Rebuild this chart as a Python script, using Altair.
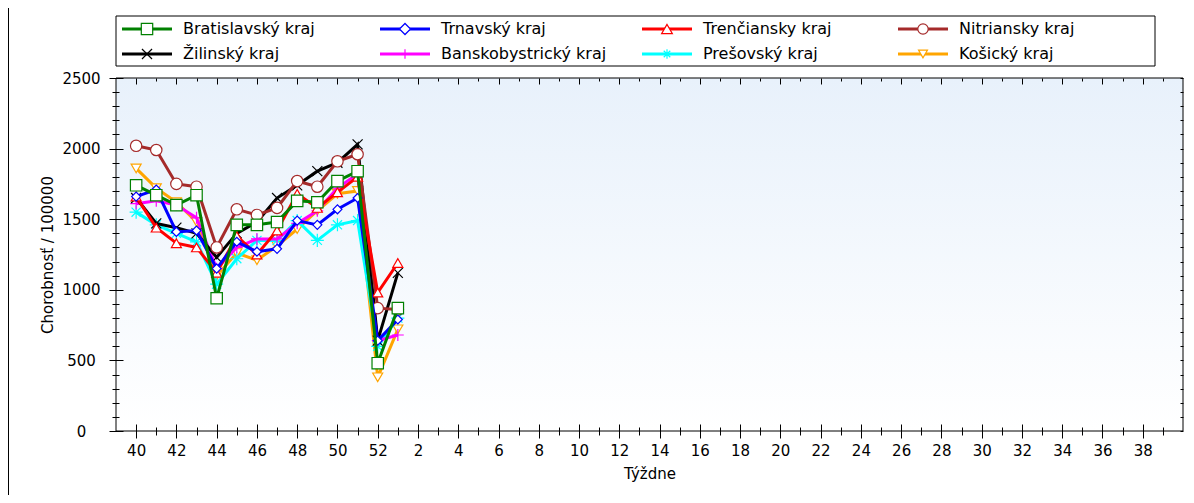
import altair as alt
import pandas as pd

# ---------------- data ----------------
WEEK_LABELS = list(range(40, 53)) + list(range(1, 40))   # x slots of the season
DATA_WEEKS = [40, 41, 42, 43, 44, 45, 46, 47, 48, 49, 50, 51, 52, 1]

SERIES = ["Bratislavský kraj", "Trnavský kraj", "Trenčiansky kraj", "Nitriansky kraj",
          "Žilinský kraj", "Banskobystrický kraj", "Prešovský kraj", "Košický kraj"]

bratislavsky = [1740, 1670, 1600, 1670, 940, 1460, 1460, 1480, 1630, 1620, 1770, 1840, 480, 870]
trnavsky = [1660, 1710, 1410, 1420, 1150, 1340, 1270, 1290, 1490, 1460, 1570, 1650, 640, 790]
trenciansky = [1660, 1440, 1330, 1300, 1120, 1380, 1250, 1420, 1680, 1580, 1690, 1800, 980, 1190]
nitriansky = [2020, 1990, 1750, 1730, 1300, 1570, 1530, 1580, 1770, 1730, 1910, 1960, 870, 860]
zilinsky = [1650, 1470, 1440, 1400, 1230, 1400, 1480, 1650, 1740, 1840, 1900, 2030, 640, 1120]
banskobystricky = [1610, 1630, 1600, 1510, 1150, 1300, 1360, 1360, 1470, 1560, 1720, 1820, 640, 680]
presovsky = [1550, 1460, 1400, 1340, 1040, 1220, 1350, 1350, 1490, 1350, 1460, 1490, 600, 800]
kosicky = [1860, 1720, 1620, 1480, 1100, 1260, 1210, 1310, 1430, 1560, 1680, 1700, 380, 720]

VALUES = [bratislavsky, trnavsky, trenciansky, nitriansky,
          zilinsky, banskobystricky, presovsky, kosicky]

# ---------------- styles ----------------
COLORS = ["#008000", "#0000ff", "#ff0000", "#a52a2a",
          "#000000", "#ff00ff", "#00ffff", "#ffa500"]
X_PATH = "M-1,-1L1,1M-1,1L1,-1"
PLUS_PATH = "M-1,0L1,0M0,-1L0,1"
STAR_PATH = "M-1,0L1,0M0,-1L0,1M-0.7,-0.7L0.7,0.7M-0.7,0.7L0.7,-0.7"
SHAPES = ["square", "diamond", "triangle-up", "circle",
          X_PATH, PLUS_PATH, STAR_PATH, "triangle-down"]
SIZES = [130, 80, 100, 130, 100, 140, 170, 100]
DRAW_ORDER = [7, 6, 5, 4, 3, 2, 1, 0]

rows = []
for name, vals in zip(SERIES, VALUES):
    for w, v in zip(DATA_WEEKS, vals):
        rows.append({"series": name, "idx": WEEK_LABELS.index(w), "val": v})
df = pd.DataFrame(rows)

W, H = 1067, 353
XD = [-1, 52]
YD = [0, 2500]
xs = alt.Scale(domain=XD, nice=False, zero=False)
ys = alt.Scale(domain=YD, nice=False, zero=False)

even = [i for i in range(len(WEEK_LABELS)) if i % 2 == 0]
odd = [i for i in range(len(WEEK_LABELS)) if i % 2 == 1]
label_expr = "[" + ",".join(str(w) for w in WEEK_LABELS) + "][datum.value]"
y_major = list(range(0, 2501, 500))
y_minor = [v for v in range(0, 2501, 100) if v % 500]
y_all = list(range(0, 2501, 100))

common = dict(domain=False, grid=False, zindex=1, tickColor="#000", tickWidth=1)

ax_b_major = alt.Axis(orient="bottom", values=even, offset=-7, tickSize=14,
                      labelExpr=label_expr, labelPadding=5, labelAngle=0,
                      labelBaseline="top",
                      title="Týždne", titleX=W / 2, titleY=49, titleBaseline="middle",
                      **common)
ax_b_minor = alt.Axis(orient="bottom", values=odd, offset=-4, tickSize=8,
                      labels=False, title=None, **common)
ax_t_major = alt.Axis(orient="top", values=even, offset=-6, tickSize=6,
                      labels=False, title=None, **common)
ax_t_minor = alt.Axis(orient="top", values=odd, offset=-3, tickSize=3,
                      labels=False, title=None, **common)

ay_l_major = alt.Axis(orient="left", values=y_major, offset=-7, tickSize=14,
                      labelAlign="center", labelPadding=28, format="d",
                      title="Chorobnosť / 100000", titleX=-76, titleY=H / 2,
                      titleAngle=270, titleBaseline="middle", **common)
ay_l_minor = alt.Axis(orient="left", values=y_minor, offset=-3, tickSize=7,
                      labels=False, title=None, **common)
ay_right = alt.Axis(orient="right", values=y_all, offset=-3, tickSize=3,
                    labels=False, title=None, **common)

layers = []

# plot background with gradient
bg_df = pd.DataFrame({"x0": [XD[0]], "x1": [XD[1]], "y0": [YD[0]], "y1": [YD[1]]})
grad = alt.Gradient(gradient="linear",
                    stops=[alt.GradientStop(color="#e8f1fb", offset=0),
                           alt.GradientStop(color="#ffffff", offset=1)],
                    x1=0, x2=0, y1=0, y2=1)
layers.append(
    alt.Chart(bg_df).mark_rect(fill=grad, stroke="#000", strokeWidth=1).encode(
        x=alt.X("x0:Q", scale=xs, axis=ax_b_major),
        x2="x1",
        y=alt.Y("y0:Q", scale=ys, axis=ay_l_major),
        y2="y1",
    )
)

extra_x = [ax_b_minor, ax_t_major, ax_t_minor]
extra_y = [ay_l_minor, ay_right]
k = 0
for i in DRAW_ORDER:
    name = SERIES[i]
    sub = df[df["series"] == name]
    xa = extra_x[k] if k < len(extra_x) else None
    ya = extra_y[k] if k < len(extra_y) else None
    k += 1
    line = alt.Chart(sub).mark_line(color=COLORS[i], strokeWidth=3).encode(
        x=alt.X("idx:Q", scale=xs, axis=xa),
        y=alt.Y("val:Q", scale=ys, axis=ya),
    )
    pts = alt.Chart(sub).mark_point(shape=SHAPES[i], size=SIZES[i], filled=True,
                                    fill="white", stroke=COLORS[i], strokeWidth=1.2,
                                    opacity=1).encode(
        x=alt.X("idx:Q", scale=xs, axis=None),
        y=alt.Y("val:Q", scale=ys, axis=None),
    )
    layers += [line, pts]

# manual legend (box + 4 columns x 2 rows)
COL_X = [31, 289, 551, 807]
ROW_Y = [-49, -24]
leg_rows = []
for j, name in enumerate(SERIES):
    c, r = j % 4, j // 4
    mx = COL_X[c]
    leg_rows.append({"series": name, "lx": mx, "lx1": mx - 25, "lx2": mx + 25,
                     "tx": mx + 36, "ly": ROW_Y[r]})
leg = pd.DataFrame(leg_rows)
one = pd.DataFrame({"a": [0]})

cscale = alt.Scale(domain=SERIES, range=COLORS)
layers.append(
    alt.Chart(one).mark_rect(fill="white", stroke="#000", strokeWidth=1).encode(
        x=alt.value(0), x2=alt.value(1039), y=alt.value(-62), y2=alt.value(-12))
)
layers.append(
    alt.Chart(leg).mark_rule(strokeWidth=3).encode(
        x=alt.X("lx1:Q", scale=None, axis=None), x2="lx2",
        y=alt.Y("ly:Q", scale=None, axis=None),
        color=alt.Color("series:N", scale=cscale, legend=None))
)
layers.append(
    alt.Chart(leg).mark_point(filled=True, fill="white", strokeWidth=1.2, opacity=1).encode(
        x=alt.X("lx:Q", scale=None, axis=None),
        y=alt.Y("ly:Q", scale=None, axis=None),
        stroke=alt.Stroke("series:N", scale=cscale, legend=None),
        shape=alt.Shape("series:N", scale=alt.Scale(domain=SERIES, range=SHAPES), legend=None),
        size=alt.Size("series:N", scale=alt.Scale(domain=SERIES, range=SIZES), legend=None))
)
layers.append(
    alt.Chart(leg).mark_text(align="left", baseline="middle", font="DejaVu Sans",
                             fontSize=16, color="#000").encode(
        x=alt.X("tx:Q", scale=None, axis=None),
        y=alt.Y("ly:Q", scale=None, axis=None),
        text="series:N")
)
# left frame line of the picture
layers.append(
    alt.Chart(one).mark_rule(color="#000", strokeWidth=1).encode(
        x=alt.value(-107.5), y=alt.value(-70), y2=alt.value(425))
)

chart = alt.layer(*layers).resolve_scale(x="shared", y="shared").resolve_axis(
    x="independent", y="independent"
).properties(
    width=W, height=H,
    autosize=alt.AutoSizeParams(type="none"),
    padding={"left": 108, "top": 70, "right": 3, "bottom": 64},
    background="white",
).configure_view(stroke=None).configure_axis(
    labelFont="DejaVu Sans", labelFontSize=15, labelColor="#000",
    titleFont="DejaVu Sans", titleFontSize=15, titleFontWeight="normal", titleColor="#000",
)

chart.save("out.html", embed_options={"renderer": "svg", "actions": False})
